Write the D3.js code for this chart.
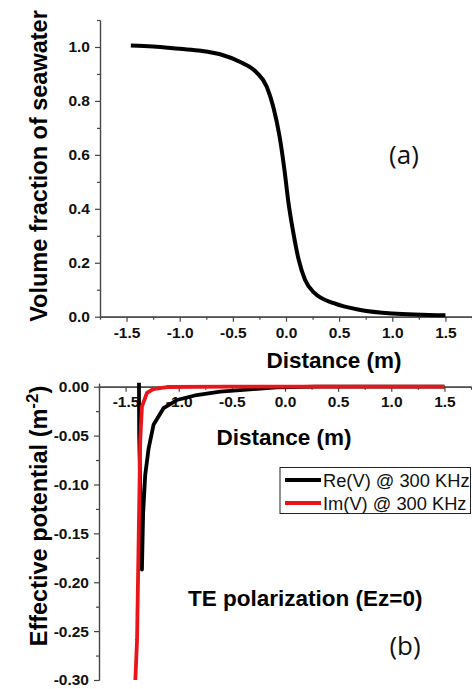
<!DOCTYPE html>
<html><head><meta charset="utf-8">
<script src="https://cdn.jsdelivr.net/npm/d3@7"></script>
<style>body{margin:0;background:#fff}svg{display:block}</style>
</head><body>
<svg id="c" width="472" height="689"></svg>
<script>
// Panel (a): volume fraction of seawater vs distance
const distA = [-1.46,-1.25,-1.0,-0.8,-0.62,-0.43,-0.28,-0.18,-0.12,-0.06,-0.01,0.02,0.07,0.12,0.18,0.27,0.45,0.7,1.0,1.5];
const fracA = [1.005,1.002,0.993,0.986,0.973,0.944,0.907,0.852,0.778,0.667,0.53,0.432,0.309,0.21,0.136,0.087,0.05,0.025,0.012,0.005];
// Panel (b): effective potential
const distRe = [-1.374,-1.372,-1.346,-1.335,-1.315,-1.283,-1.237,-1.143,-1.017,-0.83,-0.61,-0.33,-0.08,0.3,1.5];
const valRe  = [0.004,-0.05,-0.187,-0.13,-0.09,-0.063,-0.039,-0.022,-0.0136,-0.0085,-0.005,-0.0027,-0.0006,0,0];
const distIm = [-1.408,-1.392,-1.377,-1.362,-1.346,-1.299,-1.24,-1.11,-0.5,1.5];
const valIm  = [-0.300,-0.259,-0.157,-0.0545,-0.0204,-0.0064,-0.0024,-0.0003,0,0];
const xTicks = [-1.5,-1.0,-0.5,0.0,0.5,1.0,1.5];
const xMinor = [-1.75,-1.25,-0.75,-0.25,0.25,0.75,1.25,1.75];
const yTicksA = [0.0,0.2,0.4,0.6,0.8,1.0];
const yMinorA = [0.1,0.3,0.5,0.7,0.9,1.1];
const yTicksB = [0.00,-0.05,-0.10,-0.15,-0.20,-0.25,-0.30];
const yMinorB = [-0.025,-0.075,-0.125,-0.175,-0.225,-0.275];
const legendItems = ["Re(V) @ 300 KHz","Im(V) @ 300 KHz"];
const legendColors = ["#000000","#e8161b"];

const svg = d3.select("#c");
const FONT = "'Liberation Sans', Arial, sans-serif";
const axisColor = "#444";
const TICK_FS = 15.5;
const fmt = p => (d => d.toFixed(p).replace("\u2212", "-"));

function styleAxis(g, size) {
  g.selectAll("path.domain").attr("stroke", axisColor).attr("stroke-width", 1.2);
  g.selectAll(".tick line").attr("stroke", axisColor).attr("stroke-width", 1.2);
  g.selectAll(".tick text").attr("font-family", FONT).attr("font-weight", "bold")
    .attr("font-size", size).attr("fill", "#111");
}

// ---------- Panel (a) ----------
const xA = d3.scaleLinear().domain([-1.75, 1.75]).range([100, 472]);
const yA = d3.scaleLinear().domain([0, 1.1]).range([316.7, 20]);

const gxA = svg.append("g").attr("transform", `translate(0,${yA(0)})`)
  .call(d3.axisBottom(xA).tickValues(xTicks).tickFormat(fmt(1)).tickSize(5).tickSizeOuter(0).tickPadding(5));
styleAxis(gxA, TICK_FS);
const gxAm = svg.append("g").attr("transform", `translate(0,${yA(0)})`)
  .call(d3.axisBottom(xA).tickValues(xMinor).tickFormat("").tickSize(3).tickSizeOuter(0));
styleAxis(gxAm, TICK_FS);

const gyA = svg.append("g").attr("transform", `translate(${xA(-1.75)},0)`)
  .call(d3.axisLeft(yA).tickValues(yTicksA).tickFormat(fmt(1)).tickSize(5).tickSizeOuter(0).tickPadding(5));
styleAxis(gyA, TICK_FS);
const gyAm = svg.append("g").attr("transform", `translate(${xA(-1.75)},0)`)
  .call(d3.axisLeft(yA).tickValues(yMinorA).tickFormat("").tickSize(3).tickSizeOuter(0));
styleAxis(gyAm, TICK_FS);

svg.append("path")
  .datum(d3.zip(distA, fracA))
  .attr("fill", "none").attr("stroke", "#000").attr("stroke-width", 4)
  .attr("stroke-linejoin", "round")
  .attr("d", d3.line().x(d => xA(d[0])).y(d => yA(d[1])).curve(d3.curveMonotoneX));

svg.append("text").attr("x", 334).attr("y", 368).attr("text-anchor", "middle")
  .attr("font-family", FONT).attr("font-weight", "bold").attr("font-size", 22.5)
  .text("Distance (m)");
svg.append("text").attr("transform", `translate(47,166) rotate(-90)`).attr("text-anchor", "middle")
  .attr("font-family", FONT).attr("font-weight", "bold").attr("font-size", 23.5)
  .text("Volume fraction of seawater");
svg.append("text").attr("x", 404).attr("y", 164).attr("text-anchor", "middle")
  .attr("font-family", "'Open Sans', 'Noto Sans', sans-serif").attr("font-size", 26).attr("fill", "#111")
  .text("(a)");

// ---------- Panel (b) ----------
const xB = d3.scaleLinear().domain([-1.75, 1.75]).range([99, 471]);
const yB = d3.scaleLinear().domain([-0.30, 0.0035]).range([680, 383.3]);

const gyB = svg.append("g").attr("transform", `translate(${xB(-1.75)},0)`)
  .call(d3.axisLeft(yB).tickValues(yTicksB).tickFormat(fmt(2)).tickSize(5).tickSizeOuter(0).tickPadding(5));
styleAxis(gyB, TICK_FS);
const gyBm = svg.append("g").attr("transform", `translate(${xB(-1.75)},0)`)
  .call(d3.axisLeft(yB).tickValues(yMinorB).tickFormat("").tickSize(3).tickSizeOuter(0));
styleAxis(gyBm, TICK_FS);

const gxB = svg.append("g").attr("transform", `translate(0,${yB(0)})`)
  .call(d3.axisBottom(xB).tickValues(xTicks).tickFormat(fmt(1)).tickSize(5).tickSizeOuter(0).tickPadding(4));
styleAxis(gxB, TICK_FS);
const gxBm = svg.append("g").attr("transform", `translate(0,${yB(0)})`)
  .call(d3.axisBottom(xB).tickValues(xMinor).tickFormat("").tickSize(3).tickSizeOuter(0));
styleAxis(gxBm, TICK_FS);

const lineB = d3.line().x(d => xB(d[0])).y(d => yB(d[1]));
svg.append("path").datum(d3.zip(distRe, valRe))
  .attr("fill", "none").attr("stroke", legendColors[0]).attr("stroke-width", 3.8)
  .attr("stroke-linejoin", "round").attr("d", lineB);
svg.append("path").datum(d3.zip(distIm, valIm))
  .attr("fill", "none").attr("stroke", legendColors[1]).attr("stroke-width", 3.8)
  .attr("stroke-linejoin", "round").attr("d", lineB);

svg.append("text").attr("x", 284).attr("y", 445).attr("text-anchor", "middle")
  .attr("font-family", FONT).attr("font-weight", "bold").attr("font-size", 22.5)
  .text("Distance (m)");

const yl = svg.append("text").attr("transform", `translate(47,516) rotate(-90)`).attr("text-anchor", "middle")
  .attr("font-family", FONT).attr("font-weight", "bold").attr("font-size", 23.5);
yl.append("tspan").text("Effective potential (m");
yl.append("tspan").attr("dy", -9).attr("font-size", 17).text("-2");
yl.append("tspan").attr("dy", 9).text(")");

// legend
const lg = svg.append("g");
lg.append("rect").attr("x", 280).attr("y", 467.5).attr("width", 190.5).attr("height", 46)
  .attr("fill", "#fff").attr("stroke", "#222").attr("stroke-width", 1);
legendItems.forEach((t, i) => {
  const yy = 480 + i * 23;
  lg.append("line").attr("x1", 285).attr("x2", 321).attr("y1", yy).attr("y2", yy)
    .attr("stroke", legendColors[i]).attr("stroke-width", 3.8);
  lg.append("text").attr("x", 323).attr("y", yy + 6.5).attr("font-family", FONT)
    .attr("font-size", 18.3).attr("fill", "#111").text(t);
});

svg.append("text").attr("x", 188).attr("y", 606)
  .attr("font-family", FONT).attr("font-weight", "bold").attr("font-size", 22.5)
  .text("TE polarization (Ez=0)");
svg.append("text").attr("x", 405).attr("y", 655).attr("text-anchor", "middle")
  .attr("font-family", "'Open Sans', 'Noto Sans', sans-serif").attr("font-size", 26).attr("fill", "#111")
  .text("(b)");
</script>
</body></html>
